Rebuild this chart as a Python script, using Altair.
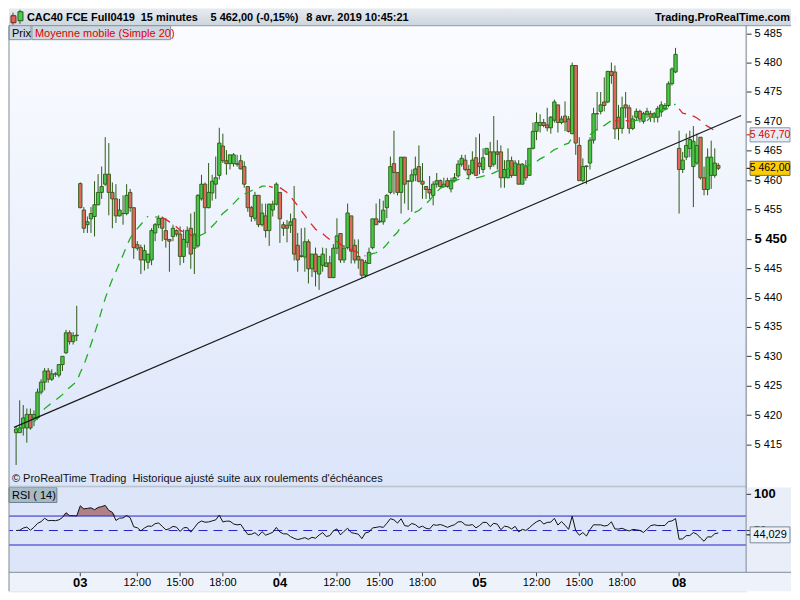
import altair as alt
import pandas as pd

FONT = "Liberation Sans"

# (open, high, low, close) of each 15-minute bar
bars_02 = [
    (5417.0, 5418.0, 5411.5, 5417.6), (5417.0, 5422.5, 5417.0, 5417.8),
    (5417.8, 5421.7, 5416.5, 5419.5), (5417.8, 5421.1, 5415.3, 5420.1),
    (5420.1, 5421.1, 5417.5, 5417.8), (5419.5, 5420.8, 5418.1, 5420.1),
    (5419.5, 5424.5, 5419.2, 5423.9), (5423.9, 5426.1, 5423.5, 5425.6),
    (5425.6, 5428.0, 5424.2, 5427.5), (5427.5, 5428.0, 5425.5, 5426.1),
    (5426.1, 5427.8, 5425.8, 5427.0), (5427.0, 5427.3, 5426.5, 5427.0),
    (5426.8, 5428.6, 5426.4, 5428.6), (5428.6, 5430.0, 5427.5, 5430.0),
    (5430.6, 5434.5, 5430.4, 5434.0), (5434.0, 5434.4, 5432.0, 5432.5),
    (5432.5, 5434.1, 5432.0, 5433.5), (5433.5, 5438.6, 5432.6, 5433.6),
]
bars_03 = [
    (5459.4, 5459.6, 5455.2, 5455.3), (5454.9, 5455.4, 5451.0, 5451.8),
    (5452.4, 5453.8, 5451.0, 5452.9), (5453.4, 5455.4, 5451.0, 5454.3),
    (5453.8, 5459.8, 5450.4, 5455.8), (5455.8, 5461.0, 5455.7, 5457.9),
    (5457.9, 5462.3, 5456.8, 5458.9), (5459.3, 5467.3, 5459.0, 5461.0),
    (5461.0, 5466.3, 5454.0, 5457.9), (5457.9, 5459.6, 5451.8, 5456.8),
    (5456.8, 5459.3, 5452.7, 5453.9), (5453.9, 5456.8, 5453.8, 5454.9),
    (5454.3, 5457.4, 5452.4, 5454.3), (5454.3, 5459.3, 5454.0, 5457.4),
    (5457.9, 5458.5, 5454.6, 5455.3), (5455.3, 5455.3, 5446.6, 5448.5),
    (5449.0, 5449.6, 5448.0, 5448.4), (5448.5, 5449.0, 5444.0, 5446.4),
    (5446.4, 5449.0, 5444.6, 5448.0), (5446.0, 5447.4, 5444.9, 5447.4),
    (5446.4, 5451.8, 5445.5, 5451.4), (5451.0, 5452.7, 5449.6, 5452.4),
    (5452.4, 5454.0, 5451.8, 5453.5), (5453.5, 5453.8, 5449.6, 5451.8),
    (5451.4, 5453.5, 5448.5, 5449.9), (5449.9, 5449.9, 5444.4, 5449.6),
    (5450.4, 5452.4, 5449.6, 5451.8), (5451.4, 5451.6, 5450.4, 5450.8),
    (5450.8, 5452.1, 5445.5, 5447.0), (5447.0, 5451.6, 5445.9, 5449.9),
    (5449.4, 5452.1, 5448.5, 5451.4), (5451.8, 5454.3, 5444.9, 5447.4),
    (5448.4, 5454.6, 5444.0, 5450.8), (5448.8, 5457.6, 5448.5, 5457.4),
    (5456.8, 5460.9, 5456.5, 5459.3), (5459.3, 5459.6, 5451.0, 5455.3),
    (5455.3, 5462.9, 5455.2, 5457.9), (5457.8, 5460.9, 5456.5, 5459.8),
    (5459.3, 5464.0, 5456.8, 5460.4), (5460.8, 5468.9, 5460.1, 5466.3),
    (5465.8, 5467.9, 5462.9, 5463.3), (5463.3, 5465.1, 5460.9, 5462.8),
    (5462.8, 5464.3, 5461.8, 5464.3), (5462.8, 5464.6, 5462.3, 5464.3),
    (5462.8, 5464.3, 5462.3, 5462.7), (5463.3, 5464.3, 5461.8, 5461.9),
    (5462.3, 5463.2, 5458.7, 5459.3), (5458.9, 5458.9, 5454.6, 5455.3),
    (5455.3, 5455.6, 5452.9, 5453.8), (5453.5, 5458.0, 5453.0, 5457.4),
    (5457.4, 5457.4, 5452.0, 5452.4), (5452.4, 5456.0, 5452.1, 5454.4),
    (5453.9, 5456.0, 5450.2, 5451.4), (5451.4, 5456.0, 5448.8, 5455.9),
    (5454.9, 5456.5, 5453.8, 5455.9), (5455.9, 5459.6, 5455.7, 5459.3),
]
bars_04 = [
    (5457.9, 5457.9, 5449.3, 5453.4), (5452.4, 5452.9, 5450.5, 5451.8),
    (5452.3, 5453.2, 5449.4, 5451.8), (5452.3, 5454.3, 5451.0, 5452.9),
    (5453.4, 5459.0, 5446.3, 5447.4), (5448.9, 5451.0, 5444.4, 5446.4),
    (5447.0, 5451.8, 5446.8, 5447.1), (5446.9, 5451.9, 5444.4, 5449.5),
    (5449.5, 5449.9, 5442.4, 5444.9), (5444.9, 5447.4, 5443.5, 5447.4),
    (5447.4, 5448.5, 5441.9, 5444.4), (5444.0, 5447.1, 5441.3, 5447.0),
    (5445.5, 5448.5, 5444.4, 5447.4), (5445.3, 5448.4, 5445.2, 5445.9),
    (5445.9, 5447.1, 5443.3, 5443.4), (5443.4, 5449.1, 5443.3, 5448.4),
    (5448.4, 5453.5, 5447.4, 5450.5), (5450.9, 5450.9, 5445.9, 5446.4),
    (5446.4, 5448.9, 5445.9, 5448.4), (5448.5, 5456.0, 5448.2, 5454.4),
    (5453.9, 5453.9, 5445.8, 5447.9), (5448.9, 5449.9, 5445.8, 5446.4),
    (5447.0, 5449.9, 5444.9, 5446.4), (5446.4, 5446.6, 5443.3, 5443.8),
    (5443.8, 5446.4, 5443.4, 5446.0), (5445.8, 5448.5, 5445.8, 5447.7),
    (5448.5, 5453.4, 5448.2, 5453.4), (5453.4, 5456.0, 5452.4, 5452.4),
    (5452.9, 5456.8, 5452.7, 5453.0), (5452.9, 5456.5, 5452.4, 5454.9),
    (5455.3, 5457.6, 5453.5, 5457.4), (5457.9, 5464.0, 5457.6, 5462.3),
    (5462.8, 5468.4, 5457.6, 5461.3), (5461.3, 5461.3, 5457.4, 5457.9),
    (5457.9, 5463.9, 5454.3, 5463.9), (5463.9, 5463.9, 5456.0, 5459.3),
    (5459.8, 5460.0, 5454.9, 5459.8), (5459.8, 5461.8, 5454.6, 5460.9),
    (5460.9, 5464.0, 5459.8, 5461.9), (5462.3, 5465.9, 5459.6, 5459.8),
    (5459.8, 5462.9, 5456.8, 5459.3), (5458.9, 5459.0, 5456.8, 5458.4),
    (5458.4, 5460.7, 5456.8, 5457.8), (5457.4, 5459.8, 5455.7, 5459.3),
    (5459.3, 5461.2, 5458.7, 5459.9), (5459.9, 5460.1, 5458.7, 5458.9),
    (5458.9, 5460.4, 5458.7, 5459.3), (5459.9, 5460.4, 5458.7, 5458.9),
    (5458.5, 5460.4, 5457.9, 5459.9), (5459.9, 5461.2, 5459.6, 5460.4),
    (5460.7, 5463.4, 5460.4, 5462.7), (5462.7, 5464.3, 5462.3, 5463.7),
    (5463.4, 5464.3, 5461.5, 5461.8), (5461.8, 5462.6, 5460.1, 5460.9),
    (5461.2, 5464.9, 5461.0, 5463.4), (5463.8, 5467.3, 5460.7, 5460.8),
]
bars_05 = [
    (5462.9, 5467.9, 5461.0, 5462.3), (5461.8, 5465.4, 5461.2, 5463.8),
    (5464.4, 5465.4, 5464.3, 5465.4), (5464.8, 5466.5, 5461.8, 5462.3),
    (5462.7, 5470.9, 5462.3, 5464.8), (5464.8, 5466.8, 5461.8, 5464.4),
    (5464.8, 5465.9, 5458.7, 5460.4), (5460.4, 5463.4, 5458.7, 5461.8),
    (5460.4, 5465.4, 5460.3, 5463.3), (5463.3, 5464.0, 5460.4, 5460.8),
    (5460.8, 5463.4, 5460.7, 5462.9), (5462.7, 5463.4, 5459.3, 5459.3),
    (5459.3, 5462.9, 5459.3, 5462.7), (5462.3, 5463.4, 5459.9, 5460.4),
    (5460.8, 5465.4, 5460.7, 5465.4), (5465.4, 5469.8, 5465.2, 5468.3),
    (5468.3, 5471.5, 5466.8, 5469.8), (5469.3, 5471.2, 5468.1, 5469.8),
    (5469.8, 5470.4, 5469.0, 5469.3), (5469.4, 5472.3, 5468.3, 5468.9),
    (5468.9, 5470.9, 5467.9, 5470.7), (5470.2, 5473.7, 5469.8, 5473.3),
    (5472.8, 5472.8, 5468.1, 5469.8), (5469.8, 5470.9, 5469.5, 5470.4),
    (5470.9, 5473.4, 5468.3, 5469.9), (5470.4, 5470.9, 5468.1, 5468.3),
    (5467.9, 5480.0, 5467.8, 5479.5), (5479.5, 5479.5, 5464.3, 5466.3),
    (5465.9, 5467.3, 5459.9, 5459.9), (5459.9, 5463.7, 5459.6, 5462.3),
    (5462.3, 5462.5, 5459.3, 5462.4), (5462.9, 5467.3, 5461.8, 5466.8),
    (5466.8, 5472.3, 5466.2, 5471.3), (5471.3, 5475.0, 5468.4, 5471.3),
    (5471.7, 5475.0, 5471.2, 5472.8), (5473.3, 5477.5, 5471.7, 5472.7),
    (5473.3, 5478.6, 5473.1, 5478.5), (5478.5, 5480.0, 5476.4, 5477.8),
    (5478.4, 5479.5, 5467.0, 5468.7), (5470.7, 5472.8, 5466.8, 5468.8),
    (5468.8, 5474.2, 5467.9, 5472.3), (5472.8, 5475.0, 5470.6, 5472.3),
    (5472.3, 5472.8, 5467.9, 5468.8), (5468.8, 5471.0, 5468.5, 5470.4),
    (5470.7, 5472.2, 5470.2, 5471.7), (5471.7, 5472.0, 5469.8, 5470.4),
    (5470.0, 5471.6, 5469.6, 5471.3), (5471.2, 5472.3, 5470.6, 5471.7),
    (5471.3, 5471.8, 5469.9, 5470.7), (5470.7, 5471.6, 5469.8, 5471.3),
    (5470.7, 5472.6, 5469.8, 5472.2), (5471.6, 5473.4, 5470.8, 5472.8),
    (5472.2, 5473.1, 5471.9, 5472.7), (5472.7, 5476.8, 5472.4, 5476.4),
    (5476.4, 5479.2, 5476.1, 5478.9), (5478.4, 5482.5, 5478.2, 5481.4),
]
bars_08 = [
    (5465.4, 5468.4, 5454.3, 5461.8), (5461.8, 5464.8, 5461.2, 5463.4),
    (5463.9, 5467.9, 5463.4, 5465.9), (5465.4, 5468.4, 5463.9, 5466.9),
    (5462.3, 5469.2, 5455.4, 5466.6), (5462.9, 5467.9, 5462.6, 5465.9),
    (5467.3, 5467.3, 5460.1, 5460.4), (5460.4, 5462.3, 5457.4, 5458.4),
    (5458.4, 5465.4, 5457.4, 5463.9), (5460.8, 5466.7, 5458.5, 5463.9),
    (5460.8, 5465.4, 5460.4, 5462.9), (5462.5, 5462.9, 5461.7, 5462.0),
]

# support line drawn by hand on the chart (bar index, price)
trend_i = [-0.6, 203.4]
trend_p = [5417.9, 5471.0]

# axis ticks
price_ticks = [5415, 5420, 5425, 5430, 5435, 5440, 5445, 5450,
               5455, 5460, 5465, 5470, 5475, 5480, 5485]
tick_idx = [18, 34, 46, 58, 74, 90, 102, 114, 130, 146, 158, 170, 186]
tick_lab = ["03", "12:00", "15:00", "18:00", "04", "12:00", "15:00", "18:00",
            "05", "12:00", "15:00", "18:00", "08"]
tick_day = [True, False, False, False, True, False, False, False,
            True, False, False, False, True]

# value boxes
ma_last, ma_last_txt = 5467.70, "5 467,70"
px_last, px_last_txt = 5462.00, "5 462,00"
rsi_last, rsi_last_txt = 44.029, "44,029"
rsi_levels = [70, 30]
rsi_mid = [50]

# RSI(14) uses Wilder smoothing (weights decaying by 13/14 per bar); it is
# approximated here by a blend of trailing means of 4, 10, 20 and 40 bars.
WILDER_BLEND = [(4, 0.078), (10, 0.195), (20, 0.324), (40, 0.352)]
RSI_SEED = 1.0   # neutral average move assumed for the bars before the chart

# ---------------------------------------------------------------- styling
GREEN = "#46c846"
RED = "#e0685e"
EDGE = "#2d5a17"
MA_UP = "#1fae1f"
MA_DN = "#e22626"
BLUE = "#2424c8"

W, H = 739, 584
MAIN_TOP, MAIN_BOT = 17, 478
RSI_TOP, RSI_BOT = 480, 565
RIGHT = 784

rows = bars_02 + bars_03 + bars_04 + bars_05 + bars_08
df = pd.DataFrame(rows, columns=["open", "high", "low", "close"])
df["i"] = range(len(df))

xs = alt.Scale(domain=[-0.6, 203.4], nice=False, zero=False)
X = alt.X("i:Q", scale=xs, axis=None)
ps = alt.Scale(domain=[5408.0, 5486.28], range=[MAIN_BOT, MAIN_TOP], nice=False, zero=False)
rs = alt.Scale(domain=[-7.7, 109.4], range=[RSI_BOT, RSI_TOP], nice=False, zero=False)

paxis = alt.Axis(
    orient="right", values=price_ticks, title=None, domain=False, grid=False,
    tickSize=5, tickColor="#333333", labelPadding=3, labelFont=FONT, labelColor="#000000",
    labelFontSize={"condition": {"test": "datum.value == 5450", "value": 13}, "value": 11},
    labelFontWeight={"condition": {"test": "datum.value == 5450", "value": "bold"}, "value": "normal"},
    labelExpr="replace(format(datum.value, ','), ',', ' ')",
)

ONE = alt.Data(values=[{"a": 1}])


def grad(c0, c1):
    return {"gradient": "linear", "x1": 0, "y1": 0, "x2": 0, "y2": 1,
            "stops": [{"offset": 0, "color": c0}, {"offset": 1, "color": c1}]}


def rect(x0, x1, y0, y1, fill, stroke=None, sw=1):
    kw = {"fill": fill}
    if stroke:
        kw.update(stroke=stroke, strokeWidth=sw)
    else:
        kw.update(strokeWidth=0)
    return alt.Chart(ONE).mark_rect(**kw).encode(
        x=alt.value(x0), x2=alt.value(x1), y=alt.value(y0), y2=alt.value(y1))


def line(x0, x1, y0, y1, color, sw=1):
    return alt.Chart(ONE).mark_rule(color=color, strokeWidth=sw).encode(
        x=alt.value(x0), x2=alt.value(x1), y=alt.value(y0), y2=alt.value(y1))


def txt(s, x, y, size=11, weight="normal", color="#000000", align="left"):
    return alt.Chart(ONE).mark_text(
        text=s, align=align, baseline="alphabetic", font=FONT, fontSize=size,
        fontWeight=weight, color=color).encode(x=alt.value(x), y=alt.value(y))


def value_box(v, label, scale, axis, half, fill, stroke, tcol, size=10):
    d = alt.Data(values=[{"v": v, "t": label}])
    base = alt.Chart(d).transform_calculate(lo=f"datum.v - {half}", hi=f"datum.v + {half}")
    box = base.mark_rect(fill=fill, stroke=stroke, strokeWidth=1).encode(
        x=alt.value(W + 4), x2=alt.value(RIGHT - 1),
        y=alt.Y("lo:Q", scale=scale, axis=axis), y2="hi:Q")
    tk = base.mark_rule(color=tcol, strokeWidth=1).encode(
        x=alt.value(W), x2=alt.value(W + 4), y=alt.Y("v:Q", scale=scale, axis=axis))
    tx = base.mark_text(font=FONT, fontSize=size, color=tcol, align="center",
                        baseline="middle").encode(
        x=alt.value((W + 4 + RIGHT - 1) / 2), y=alt.Y("v:Q", scale=scale, axis=axis),
        text="t:N")
    return alt.layer(box, tk, tx)


# ---------------------------------------------------------------- main panel
bg_main = alt.Chart(ONE).mark_rect(fill=grad("#fbfcff", "#dbe5fa"), strokeWidth=0).encode(
    x=alt.value(0), x2=alt.value(W), y=alt.value(MAIN_TOP), y2=alt.value(MAIN_BOT))

wicks = alt.Chart(df).mark_rule(color=EDGE, strokeWidth=1).encode(
    x=X, y=alt.Y("low:Q", scale=ps, axis=paxis), y2="high:Q")

bodies = alt.Chart(df).mark_bar(size=3.4, stroke=EDGE, strokeWidth=0.9).encode(
    x=X, y=alt.Y("open:Q", scale=ps, axis=paxis), y2="close:Q",
    fill=alt.condition("datum.close >= datum.open", alt.value(GREEN), alt.value(RED)))

sortI = [alt.SortField("i")]
ma_line = (
    alt.Chart(df)
    .transform_window(ma="mean(close)", frame=[-19, 0], sort=sortI)
    .transform_window(prev_ma="lag(ma)", sort=sortI)
    .transform_calculate(up="datum.prev_ma == null || datum.ma >= datum.prev_ma ? 1 : 0")
    .transform_window(prev_up="lag(up)", sort=sortI)
    .transform_calculate(chg="datum.prev_up == null || datum.prev_up != datum.up ? 1 : 0")
    .transform_window(run="sum(chg)", frame=[None, 0], sort=sortI)
    .mark_line(strokeDash=[9, 7], strokeWidth=1.3)
    .encode(x=X, y=alt.Y("ma:Q", scale=ps, axis=paxis),
            color=alt.Color("up:N", scale=alt.Scale(domain=[0, 1], range=[MA_DN, MA_UP]),
                            legend=None),
            detail="run:N", order="i:Q")
)

trend = alt.Chart(pd.DataFrame({"i": trend_i, "p": trend_p})).mark_line(
    color="#1a1a1a", strokeWidth=1.2).encode(x=X, y=alt.Y("p:Q", scale=ps, axis=paxis))

box_ma = value_box(ma_last, ma_last_txt, ps, paxis, 1.2, "#e6ecf6", "#7f97b2", "#e00000", 10.5)
box_px = value_box(px_last, px_last_txt, ps, paxis, 1.2, "#ffcc00", "#6a6a6a", "#000000", 10.5)

main = alt.layer(bg_main, wicks, bodies, ma_line, trend, box_ma, box_px)

# ---------------------------------------------------------------- RSI panel
rsi_base = (
    alt.Chart(df)
    .transform_window(prev_close="lag(close)", sort=sortI)
    .transform_calculate(
        gain=f"datum.prev_close == null ? {RSI_SEED} : max(datum.close - datum.prev_close, 0)",
        loss=f"datum.prev_close == null ? {RSI_SEED} : max(datum.prev_close - datum.close, 0)")
)
g_terms, l_terms, wsum = [], [], 0.0
for L, a in WILDER_BLEND:
    rsi_base = rsi_base.transform_window(
        **{f"sg{L}": "sum(gain)", f"sl{L}": "sum(loss)", f"n{L}": "count()"},
        frame=[-(L - 1), 0], sort=sortI)
    g_terms.append(f"{a} * (datum.sg{L} + ({L} - datum.n{L}) * {RSI_SEED}) / {L}")
    l_terms.append(f"{a} * (datum.sl{L} + ({L} - datum.n{L}) * {RSI_SEED}) / {L}")
    wsum += a
rsi_base = rsi_base.transform_calculate(
    ag="(" + " + ".join(g_terms) + f") / {wsum}",
    al="(" + " + ".join(l_terms) + f") / {wsum}",
).transform_calculate(
    rsi="(datum.ag + datum.al) == 0 ? 50 : 100 * datum.ag / (datum.ag + datum.al)")

bg_rsi = rect(0, W, RSI_TOP, RSI_BOT, "#dde6f8")
bg_rsi_ax = rect(W, RIGHT, RSI_TOP, RSI_BOT, "#e9eef9")

ob_area = rsi_base.transform_calculate(hi="max(datum.rsi, 70)", lv="70").mark_area(
    color="#ad7a80", opacity=0.95).encode(
    x=X, y=alt.Y("hi:Q", scale=rs, axis=None), y2="lv:Q")

lv_solid = alt.Chart(pd.DataFrame({"lvl": rsi_levels})).mark_rule(
    color=BLUE, strokeWidth=1).encode(y=alt.Y("lvl:Q", scale=rs, axis=None))
lv_mid = alt.Chart(pd.DataFrame({"lvl": rsi_mid})).mark_rule(
    color=BLUE, strokeWidth=1, strokeDash=[9, 6]).encode(y=alt.Y("lvl:Q", scale=rs, axis=None))

rsi_line = rsi_base.mark_line(color="#111111", strokeWidth=1).encode(
    x=X, y=alt.Y("rsi:Q", scale=rs, axis=None))

rsi_ax = pd.DataFrame({"v": [100, 50], "t": ["100", "50"], "b": [True, False]})
rsi_ticks = alt.Chart(rsi_ax).mark_rule(color="#333333").encode(
    x=alt.value(W), x2=alt.value(W + 5), y=alt.Y("v:Q", scale=rs, axis=None))
rsi_lab_b = alt.Chart(rsi_ax).transform_filter("datum.b").mark_text(
    font=FONT, fontSize=13, fontWeight="bold", align="left", baseline="middle").encode(
    x=alt.value(W + 8), y=alt.Y("v:Q", scale=rs, axis=None), text="t:N")
rsi_lab_n = alt.Chart(rsi_ax).transform_filter("!datum.b").mark_text(
    font=FONT, fontSize=11, align="left", baseline="middle").encode(
    x=alt.value(W + 8), y=alt.Y("v:Q", scale=rs, axis=None), text="t:N")
box_rsi = value_box(rsi_last, rsi_last_txt, rs, None, 11, "#eef2f8", "#7a8a9a", "#000000", 11)

rsi_panel = alt.layer(bg_rsi, bg_rsi_ax, ob_area, lv_solid, lv_mid, rsi_line,
                      rsi_ticks, rsi_lab_n, rsi_lab_b, box_rsi)

# ---------------------------------------------------------------- frame, header, labels
xt = pd.DataFrame({"i": tick_idx, "lab": tick_lab, "day": tick_day})
x_area = rect(0, RIGHT, RSI_BOT, H, "#eef2fa")
x_ticks = alt.Chart(xt).mark_rule(color="#444444").encode(
    x=X, y=alt.value(RSI_BOT), y2=alt.value(RSI_BOT + 4))
x_day = alt.Chart(xt).transform_filter("datum.day").mark_text(
    font=FONT, fontSize=13, fontWeight="bold", baseline="alphabetic").encode(
    x=X, y=alt.value(580), text="lab:N")
x_hr = alt.Chart(xt).transform_filter("!datum.day").mark_text(
    font=FONT, fontSize=11, baseline="alphabetic").encode(
    x=X, y=alt.value(579), text="lab:N")

header = alt.layer(
    rect(0, RIGHT, 0, MAIN_TOP, grad("#e6ebf0", "#ccd5de")),
    line(0, RIGHT, MAIN_TOP, MAIN_TOP, "#8e9aa6"),
    line(4, 4, 4, 16, "#6b2a22"), rect(2, 7, 7, 14, "#e0605a", "#6b2a22"),
    line(11, 11, 1, 15, "#1d5c12"), rect(9, 14, 3, 12, "#4ccc4c", "#1d5c12"),
    txt("CAC40 FCE Full0419", 18, 12, 11, "bold"),
    txt("15 minutes", 132, 12, 11, "bold"),
    txt("5 462,00 (-0,15%)", 202, 12, 11, "bold"),
    txt("8 avr. 2019 10:45:21", 298, 12, 11, "bold"),
    txt("Trading.ProRealTime.com", RIGHT - 1, 12, 11, "bold", align="right"),
)

labels = alt.layer(
    rect(0, 22, MAIN_TOP, MAIN_TOP + 14, "#cdd7e0", "#8795a3"),
    txt("Prix", 3, MAIN_TOP + 11, 11),
    rect(23, 162, MAIN_TOP, MAIN_TOP + 14, "#cdd7e0", "#8795a3"),
    txt("Moyenne mobile (Simple 20)", 26, MAIN_TOP + 11, 11, color="#e00000"),
    txt("\u00a9 ProRealTime Trading\u00a0\u00a0Historique ajust\u00e9 suite aux roulements d'\u00e9ch\u00e9ances",
        3, MAIN_BOT - 4, 11, color="#111111"),
    rect(0, 48, RSI_TOP, RSI_TOP + 15, "#a7bac7", "#6f808e"),
    txt("RSI (\u00a014)", 3, RSI_TOP + 12, 11),
)

frames = alt.layer(
    rect(0, W, MAIN_BOT, RSI_TOP, "#b9c4cf"),
    line(W, W, MAIN_TOP, RSI_BOT, "#7d8b98"),
    line(0, 0, MAIN_TOP, H, "#7d8b98"),
    line(0, RIGHT, RSI_BOT, RSI_BOT, "#7d8b98"),
)

chart = (
    alt.layer(main, rsi_panel, x_area, x_ticks, x_day, x_hr, header, labels, frames)
    .resolve_scale(y="independent")
    .properties(width=W, height=H, padding=0, background="white")
    .configure_view(stroke=None)
    .configure(font=FONT)
)

chart.save("out.html", embed_options={"renderer": "svg", "actions": False})
